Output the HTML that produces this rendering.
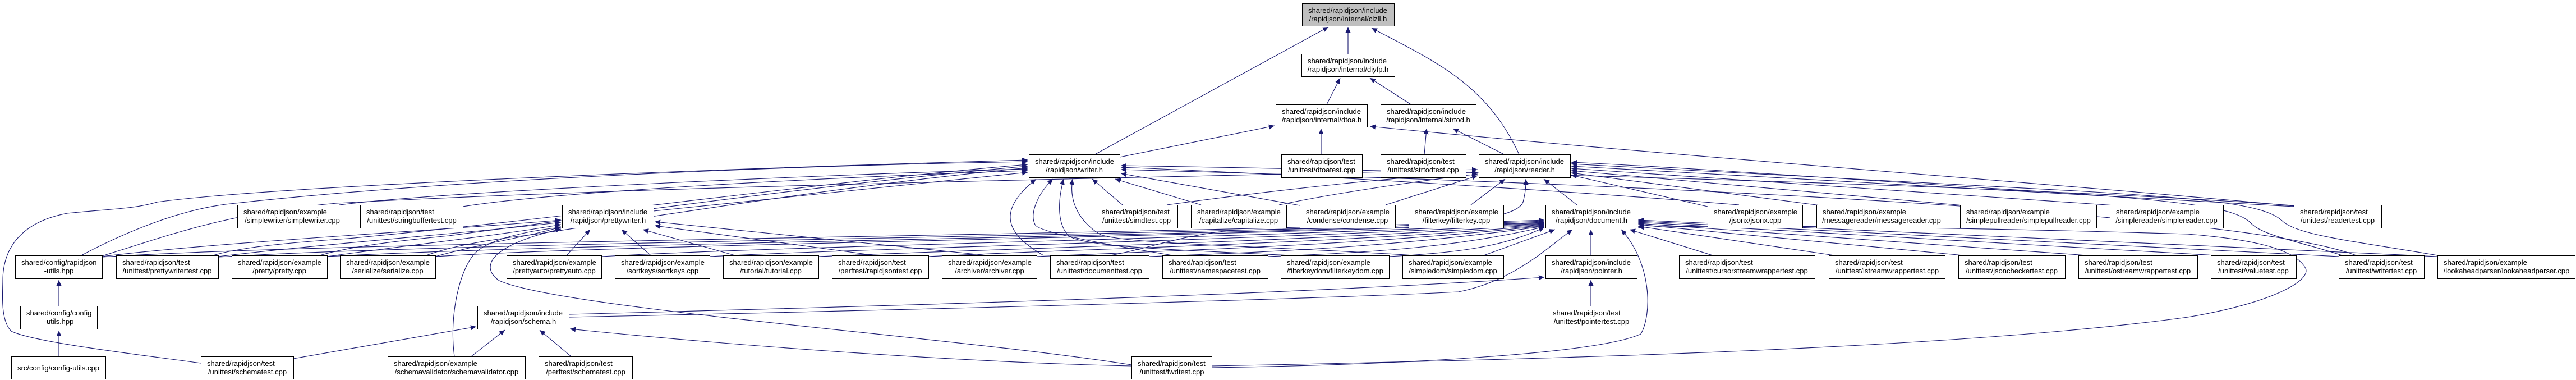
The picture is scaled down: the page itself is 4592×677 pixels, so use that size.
<!DOCTYPE html>
<html><head><meta charset="utf-8"><style>
html,body{margin:0;padding:0;background:#fff;}
svg{display:block;}
text{font-family:"Liberation Sans",Arial,sans-serif;font-size:13px;fill:#000;}
.e{fill:none;stroke:#191970;stroke-width:1.1;marker-end:url(#a);}
.n{fill:#fff;stroke:#000;stroke-width:1;}
.g{fill:#bfbfbf;stroke:#000;stroke-width:1;}
</style></head><body>
<svg width="4592" height="677" viewBox="0 0 4592 677" xmlns="http://www.w3.org/2000/svg">
<defs><marker id="a" markerUnits="userSpaceOnUse" markerWidth="11" markerHeight="9" refX="10" refY="4.5" orient="auto"><path d="M0,0 L10,4.5 L0,9 z" fill="#191970"/></marker></defs>

<!-- edges -->
<path class="e" d="M2403,96 L2403,48"/>
<path class="e" d="M1952,275 L2368,48"/>
<path class="e" d="M2708,275 C2650,150 2560,110 2445,50"/>
<path class="e" d="M2365,186 L2389,139"/>
<path class="e" d="M2515,186 L2442,139"/>
<path class="e" d="M1996,280 L2272,224"/>
<path class="e" d="M2355,275 L2355,229"/>
<path class="e" d="M2539,275 L2543,229"/>
<path class="e" d="M2681,275 L2590,229"/>
<path class="e" d="M4089,367 C3700,330 3000,280 2442,225"/>

<!-- writer.h -->
<path class="e" d="M605,365 C800,340 1500,310 1832,301"/>
<path class="e" d="M825,368 C1000,340 1500,315 1832,304"/>
<path class="e" d="M1165,376 L1832,307"/>
<path class="e" d="M145,455 C230,410 330,370 420,362 C800,320 1400,295 1832,288"/>
<path class="e" d="M358,647 C250,632 60,610 20,590 C0,570 5,520 5,500 C5,440 40,395 120,380 C200,372 240,372 280,360 C500,330 1300,300 1832,285"/>
<path class="e" d="M380,455 C430,440 520,432 620,425 C1000,390 1500,320 1832,293"/>
<path class="e" d="M570,455 C620,440 700,430 800,420 C1100,380 1500,325 1832,296"/>
<path class="e" d="M760,455 C800,440 860,428 950,418 C1200,380 1550,325 1832,299"/>
<path class="e" d="M1860,455 C1800,420 1770,380 1847,319"/>
<path class="e" d="M2090,455 C2000,440 1850,415 1845,400 C1835,380 1850,345 1877,319"/>
<path class="e" d="M2300,455 C2100,445 1930,440 1905,420 C1885,400 1885,360 1896,319"/>
<path class="e" d="M2520,455 C2300,440 1990,435 1960,417 C1925,395 1905,360 1912,319"/>
<path class="e" d="M2001,365 L1947,319"/>
<path class="e" d="M2141,365 L1988,319"/>
<path class="e" d="M2317,366 L1998,309"/>
<path class="e" d="M3100,365 C2800,340 2300,310 1998,298"/>
<path class="e" d="M4200,455 C4000,380 3000,330 1998,302"/>
<path class="e" d="M4100,367 C3600,330 2600,305 1998,295"/>

<!-- reader.h -->
<path class="e" d="M2811,365 L2752,319"/>
<path class="e" d="M2622,365 L2683,319"/>
<path class="e" d="M2470,365 L2634,313"/>
<path class="e" d="M2280,365 C2400,340 2550,320 2634,310"/>
<path class="e" d="M2080,365 C2300,335 2500,315 2634,307"/>
<path class="e" d="M182,456 C300,420 400,380 600,362 C1200,330 2000,318 2634,302"/>
<path class="e" d="M1980,455 C2060,440 2100,420 2200,410 C2500,405 2700,400 2715,360 C2720,340 2720,330 2720,319"/>
<path class="e" d="M3044,368 L2801,312"/>
<path class="e" d="M3245,366 L2801,308"/>
<path class="e" d="M3500,366 L2801,304"/>
<path class="e" d="M3770,366 L2801,300"/>
<path class="e" d="M4089,368 L2801,296"/>
<path class="e" d="M4345,455 C4200,430 4100,420 4070,395 C4040,365 3950,355 3700,340 C3300,320 3000,300 2801,292"/>
<path class="e" d="M4175,455 C4100,430 4030,420 4010,395 C3980,370 3900,360 3700,345 C3300,320 3000,298 2801,289"/>

<!-- document.h -->
<path class="e" d="M2836,455 L2836,409"/>
<path class="e" d="M2645,455 L2772,409"/>
<path class="e" d="M1014,565 C1500,555 2300,535 2600,520 C2700,500 2760,440 2803,409"/>
<path class="e" d="M2160,655 C2500,650 2850,630 2925,595 C2945,560 2945,470 2890,409"/>
<path class="e" d="M3053,455 L2905,409"/>
<path class="e" d="M3270,455 L2920,403"/>
<path class="e" d="M3500,455 L2920,400"/>
<path class="e" d="M3720,455 L2920,398"/>
<path class="e" d="M3950,455 L2920,396"/>
<path class="e" d="M4170,457 L2920,394"/>
<path class="e" d="M4345,457 L2920,392"/>
<path class="e" d="M2160,652 C2800,640 3500,620 3900,565 C4050,540 4120,500 4110,478 C4090,440 4000,425 3900,417 C3500,405 3100,400 2920,405"/>
<path class="e" d="M182,458 C600,430 2000,420 2753,392"/>
<path class="e" d="M389,458 C800,432 2000,422 2753,394"/>
<path class="e" d="M583,457 C1000,434 2000,424 2753,396"/>
<path class="e" d="M776,457 C1100,436 2000,426 2753,397"/>
<path class="e" d="M1072,457 C1400,438 2100,428 2753,398"/>
<path class="e" d="M1265,457 C1600,440 2200,430 2753,399"/>
<path class="e" d="M1459,457 C1800,442 2300,432 2753,400"/>
<path class="e" d="M1655,457 C1900,444 2400,434 2753,401"/>
<path class="e" d="M1848,457 C2100,446 2450,436 2753,402"/>
<path class="e" d="M2048,457 C2300,448 2500,438 2753,403"/>
<path class="e" d="M2260,457 C2450,450 2600,440 2753,404"/>
<path class="e" d="M2476,457 C2600,450 2680,440 2753,405"/>

<!-- prettywriter.h -->
<path class="e" d="M182,457 C400,430 800,410 1000,392"/>
<path class="e" d="M389,457 C600,432 850,414 1000,396"/>
<path class="e" d="M583,457 C750,434 900,418 1000,400"/>
<path class="e" d="M776,457 C850,436 950,420 1000,404"/>
<path class="e" d="M1010,455 L1052,409"/>
<path class="e" d="M1160,455 L1108,409"/>
<path class="e" d="M1310,455 L1146,409"/>
<path class="e" d="M1560,455 L1167,402"/>
<path class="e" d="M1760,455 L1167,395"/>
<path class="e" d="M810,635 C800,560 820,480 846,452 C870,425 950,410 1000,405"/>
<path class="e" d="M2017,650 C1700,600 1000,550 890,500 C860,480 860,440 1000,408"/>

<!-- schema.h / pointer.h / config -->
<path class="e" d="M523,639 L849,582"/>
<path class="e" d="M840,635 L900,588"/>
<path class="e" d="M1018,635 L962,588"/>
<path class="e" d="M2017,652 C1700,645 1300,615 1016,586"/>
<path class="e" d="M1014,560 C1600,545 2300,525 2753,494"/>
<path class="e" d="M2836,545 L2836,499"/>
<path class="e" d="M105,545 L105,499"/>
<path class="e" d="M105,635 L105,589"/>

<!-- nodes -->
<g>
<rect class="g" x="2321.5" y="6.5" width="164" height="40"/><text x="2332" y="23">shared/rapidjson/include</text><text x="2403" y="38" text-anchor="middle">/rapidjson/internal/clzll.h</text>
<rect class="n" x="2320.5" y="96.5" width="166" height="40"/><text x="2331" y="113">shared/rapidjson/include</text><text x="2403" y="128" text-anchor="middle">/rapidjson/internal/diyfp.h</text>
<rect class="n" x="2274.5" y="186.5" width="163" height="40"/><text x="2285" y="203">shared/rapidjson/include</text><text x="2356" y="218" text-anchor="middle">/rapidjson/internal/dtoa.h</text>
<rect class="n" x="2461.5" y="186.5" width="170" height="40"/><text x="2472" y="203">shared/rapidjson/include</text><text x="2546" y="218" text-anchor="middle">/rapidjson/internal/strtod.h</text>

<rect class="n" x="1834.5" y="275.5" width="162" height="41"/><text x="1845" y="292">shared/rapidjson/include</text><text x="1915" y="307" text-anchor="middle">/rapidjson/writer.h</text>
<rect class="n" x="2284.5" y="275.5" width="144" height="41"/><text x="2295" y="292">shared/rapidjson/test</text><text x="2356" y="307" text-anchor="middle">/unittest/dtoatest.cpp</text>
<rect class="n" x="2461.5" y="275.5" width="152" height="41"/><text x="2472" y="292">shared/rapidjson/test</text><text x="2537" y="307" text-anchor="middle">/unittest/strtodtest.cpp</text>
<rect class="n" x="2636.5" y="275.5" width="163" height="41"/><text x="2647" y="292">shared/rapidjson/include</text><text x="2718" y="307" text-anchor="middle">/rapidjson/reader.h</text>

<rect class="n" x="423.5" y="365.5" width="195" height="41"/><text x="434" y="382">shared/rapidjson/example</text><text x="521" y="397" text-anchor="middle">/simplewriter/simplewriter.cpp</text>
<rect class="n" x="642.5" y="365.5" width="183" height="41"/><text x="653" y="382">shared/rapidjson/test</text><text x="734" y="397" text-anchor="middle">/unittest/stringbuffertest.cpp</text>
<rect class="n" x="1002.5" y="365.5" width="163" height="41"/><text x="1013" y="382">shared/rapidjson/include</text><text x="1084" y="397" text-anchor="middle">/rapidjson/prettywriter.h</text>
<rect class="n" x="1953.5" y="365.5" width="146" height="41"/><text x="1964" y="382">shared/rapidjson/test</text><text x="2026" y="397" text-anchor="middle">/unittest/simdtest.cpp</text>
<rect class="n" x="2123.5" y="365.5" width="170" height="41"/><text x="2134" y="382">shared/rapidjson/example</text><text x="2208" y="397" text-anchor="middle">/capitalize/capitalize.cpp</text>
<rect class="n" x="2317.5" y="365.5" width="170" height="41"/><text x="2328" y="382">shared/rapidjson/example</text><text x="2402" y="397" text-anchor="middle">/condense/condense.cpp</text>
<rect class="n" x="2511.5" y="365.5" width="169" height="41"/><text x="2522" y="382">shared/rapidjson/example</text><text x="2596" y="397" text-anchor="middle">/filterkey/filterkey.cpp</text>
<rect class="n" x="2755.5" y="365.5" width="163" height="41"/><text x="2766" y="382">shared/rapidjson/include</text><text x="2837" y="397" text-anchor="middle">/rapidjson/document.h</text>
<rect class="n" x="3044.5" y="365.5" width="169" height="41"/><text x="3055" y="382">shared/rapidjson/example</text><text x="3129" y="397" text-anchor="middle">/jsonx/jsonx.cpp</text>
<rect class="n" x="3238.5" y="365.5" width="232" height="41"/><text x="3249" y="382">shared/rapidjson/example</text><text x="3354" y="397" text-anchor="middle">/messagereader/messagereader.cpp</text>
<rect class="n" x="3494.5" y="365.5" width="243" height="41"/><text x="3505" y="382">shared/rapidjson/example</text><text x="3616" y="397" text-anchor="middle">/simplepullreader/simplepullreader.cpp</text>
<rect class="n" x="3761.5" y="365.5" width="202" height="41"/><text x="3772" y="382">shared/rapidjson/example</text><text x="3862" y="397" text-anchor="middle">/simplereader/simplereader.cpp</text>
<rect class="n" x="4089.5" y="365.5" width="156" height="41"/><text x="4100" y="382">shared/rapidjson/test</text><text x="4167" y="397" text-anchor="middle">/unittest/readertest.cpp</text>

<rect class="n" x="27.5" y="455.5" width="155" height="41"/><text x="38" y="472">shared/config/rapidjson</text><text x="105" y="487" text-anchor="middle">-utils.hpp</text>
<rect class="n" x="207.5" y="455.5" width="182" height="41"/><text x="218" y="472">shared/rapidjson/test</text><text x="298" y="487" text-anchor="middle">/unittest/prettywritertest.cpp</text>
<rect class="n" x="413.5" y="455.5" width="170" height="41"/><text x="424" y="472">shared/rapidjson/example</text><text x="498" y="487" text-anchor="middle">/pretty/pretty.cpp</text>
<rect class="n" x="606.5" y="455.5" width="170" height="41"/><text x="617" y="472">shared/rapidjson/example</text><text x="691" y="487" text-anchor="middle">/serialize/serialize.cpp</text>
<rect class="n" x="903.5" y="455.5" width="169" height="41"/><text x="914" y="472">shared/rapidjson/example</text><text x="988" y="487" text-anchor="middle">/prettyauto/prettyauto.cpp</text>
<rect class="n" x="1096.5" y="455.5" width="169" height="41"/><text x="1107" y="472">shared/rapidjson/example</text><text x="1181" y="487" text-anchor="middle">/sortkeys/sortkeys.cpp</text>
<rect class="n" x="1289.5" y="455.5" width="170" height="41"/><text x="1300" y="472">shared/rapidjson/example</text><text x="1374" y="487" text-anchor="middle">/tutorial/tutorial.cpp</text>
<rect class="n" x="1483.5" y="455.5" width="172" height="41"/><text x="1494" y="472">shared/rapidjson/test</text><text x="1569" y="487" text-anchor="middle">/perftest/rapidjsontest.cpp</text>
<rect class="n" x="1679.5" y="455.5" width="169" height="41"/><text x="1690" y="472">shared/rapidjson/example</text><text x="1764" y="487" text-anchor="middle">/archiver/archiver.cpp</text>
<rect class="n" x="1872.5" y="455.5" width="176" height="41"/><text x="1883" y="472">shared/rapidjson/test</text><text x="1960" y="487" text-anchor="middle">/unittest/documenttest.cpp</text>
<rect class="n" x="2072.5" y="455.5" width="188" height="41"/><text x="2083" y="472">shared/rapidjson/test</text><text x="2166" y="487" text-anchor="middle">/unittest/namespacetest.cpp</text>
<rect class="n" x="2283.5" y="455.5" width="193" height="41"/><text x="2294" y="472">shared/rapidjson/example</text><text x="2380" y="487" text-anchor="middle">/filterkeydom/filterkeydom.cpp</text>
<rect class="n" x="2500.5" y="455.5" width="180" height="41"/><text x="2511" y="472">shared/rapidjson/example</text><text x="2590" y="487" text-anchor="middle">/simpledom/simpledom.cpp</text>
<rect class="n" x="2755.5" y="455.5" width="163" height="41"/><text x="2766" y="472">shared/rapidjson/include</text><text x="2837" y="487" text-anchor="middle">/rapidjson/pointer.h</text>
<rect class="n" x="2993.5" y="455.5" width="242" height="41"/><text x="3004" y="472">shared/rapidjson/test</text><text x="3114" y="487" text-anchor="middle">/unittest/cursorstreamwrappertest.cpp</text>
<rect class="n" x="3260.5" y="455.5" width="207" height="41"/><text x="3271" y="472">shared/rapidjson/test</text><text x="3364" y="487" text-anchor="middle">/unittest/istreamwrappertest.cpp</text>
<rect class="n" x="3491.5" y="455.5" width="190" height="41"/><text x="3502" y="472">shared/rapidjson/test</text><text x="3586" y="487" text-anchor="middle">/unittest/jsoncheckertest.cpp</text>
<rect class="n" x="3705.5" y="455.5" width="212" height="41"/><text x="3716" y="472">shared/rapidjson/test</text><text x="3811" y="487" text-anchor="middle">/unittest/ostreamwrappertest.cpp</text>
<rect class="n" x="3941.5" y="455.5" width="152" height="41"/><text x="3952" y="472">shared/rapidjson/test</text><text x="4017" y="487" text-anchor="middle">/unittest/valuetest.cpp</text>
<rect class="n" x="4169.5" y="455.5" width="152" height="41"/><text x="4180" y="472">shared/rapidjson/test</text><text x="4245" y="487" text-anchor="middle">/unittest/writertest.cpp</text>
<rect class="n" x="4345.5" y="455.5" width="245" height="41"/><text x="4356" y="472">shared/rapidjson/example</text><text x="4468" y="487" text-anchor="middle">/lookaheadparser/lookaheadparser.cpp</text>

<rect class="n" x="36.5" y="545.5" width="137" height="41"/><text x="47" y="562">shared/config/config</text><text x="105" y="577" text-anchor="middle">-utils.hpp</text>
<rect class="n" x="851.5" y="545.5" width="163" height="41"/><text x="862" y="562">shared/rapidjson/include</text><text x="933" y="577" text-anchor="middle">/rapidjson/schema.h</text>
<rect class="n" x="2757.5" y="545.5" width="159" height="41"/><text x="2768" y="562">shared/rapidjson/test</text><text x="2837" y="577" text-anchor="middle">/unittest/pointertest.cpp</text>

<rect class="n" x="20.5" y="635.5" width="168" height="40"/><text x="104" y="660" text-anchor="middle">src/config/config-utils.cpp</text>
<rect class="n" x="358.5" y="635.5" width="165" height="40"/><text x="369" y="652">shared/rapidjson/test</text><text x="441" y="667" text-anchor="middle">/unittest/schematest.cpp</text>
<rect class="n" x="691.5" y="635.5" width="245" height="40"/><text x="702" y="652">shared/rapidjson/example</text><text x="814" y="667" text-anchor="middle">/schemavalidator/schemavalidator.cpp</text>
<rect class="n" x="960.5" y="635.5" width="167" height="40"/><text x="971" y="652">shared/rapidjson/test</text><text x="1044" y="667" text-anchor="middle">/perftest/schematest.cpp</text>
<rect class="n" x="2017.5" y="635.5" width="143" height="40"/><text x="2028" y="652">shared/rapidjson/test</text><text x="2089" y="667" text-anchor="middle">/unittest/fwdtest.cpp</text>
</g>
</svg>
</body></html>
